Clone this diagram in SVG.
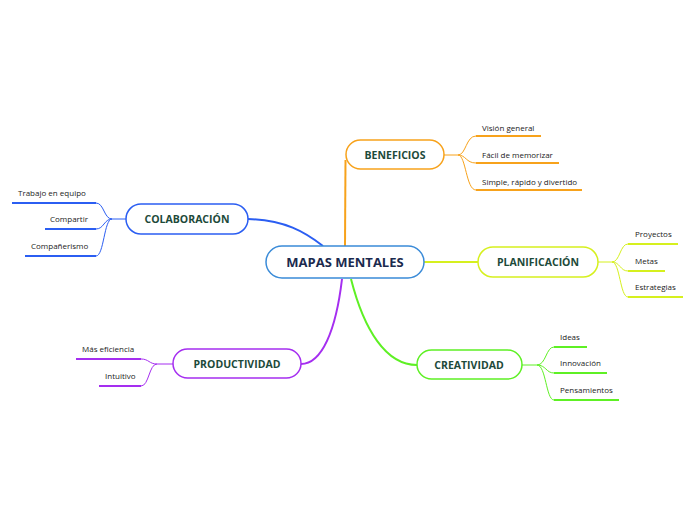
<svg xmlns="http://www.w3.org/2000/svg" width="696" height="520" viewBox="0 0 696 520">
<style>
.node{fill:#fff;stroke-width:1.5}
.main{font-family:"Open Sans","Noto Sans",sans-serif;font-weight:bold;font-size:13px;fill:#1b2a4e;text-anchor:middle;dominant-baseline:central}
.title{font-family:"Open Sans","Noto Sans",sans-serif;font-weight:bold;font-size:10.5px;fill:#1d4a3a;text-anchor:middle;dominant-baseline:central}
.leaf{font-family:"Open Sans","Noto Sans",sans-serif;font-size:8px;fill:#222}
.conn{fill:none;stroke-width:2}
.br{fill:none;stroke-width:1}
.ul{stroke-width:2}
.or{stroke:#f7a21b}
.bl{stroke:#2b5ef2}
.yg{stroke:#d6f01e}
.pu{stroke:#a52ef0}
.gr{stroke:#5ef024}
</style>
<rect width="696" height="520" fill="#fff"/>
<g id="connectors">
<path class="conn or" d="M345,246 L345.5,160"/>
<path class="conn bl" d="M323,246 C305,232 285,220 248,219"/>
<path class="conn yg" d="M424,262 L478,262"/>
<path class="conn pu" d="M342,279 C336,330 322,364 301,364"/>
<path class="conn gr" d="M351,279 C364,330 386,365 417,365"/>
</g>
<g id="central">
<rect class="node" x="266" y="246" width="158" height="32" rx="16" stroke="#3a8bd8"/>
<text class="main" x="345" y="262">MAPAS MENTALES</text>
</g>
<g id="beneficios">
<rect class="node or" x="346" y="140" width="98" height="29" rx="14.5"/>
<text class="title" x="395" y="155">BENEFICIOS</text>
<path class="br or" d="M444,155 L458,155 C466,155 466,136 476,136 M458,155 C466,155 466,163 476,163 M458,155 C466,155 466,190 476,190"/>
<line class="ul or" x1="476" y1="136" x2="541" y2="136"/>
<line class="ul or" x1="476" y1="163" x2="559" y2="163"/>
<line class="ul or" x1="476" y1="190" x2="582" y2="190"/>
<text class="leaf" x="482" y="131">Visión general</text>
<text class="leaf" x="482" y="158">Fácil de memorizar</text>
<text class="leaf" x="482" y="185">Simple, rápido y divertido</text>
</g>
<g id="colaboracion">
<rect class="node bl" x="126" y="204" width="122" height="30" rx="15"/>
<text class="title" x="187" y="219">COLABORACIÓN</text>
<path class="br bl" d="M126,219 L112,219 C104,219 104,203 96,203 M112,219 C104,219 104,229 96,229 M112,219 C104,219 104,256 96,256"/>
<line class="ul bl" x1="12" y1="203" x2="96" y2="203"/>
<line class="ul bl" x1="45" y1="229" x2="96" y2="229"/>
<line class="ul bl" x1="25" y1="256" x2="96" y2="256"/>
<text class="leaf" x="18" y="196">Trabajo en equipo</text>
<text class="leaf" x="50" y="222">Compartir</text>
<text class="leaf" x="31" y="249">Compañerismo</text>
</g>
<g id="planificacion">
<rect class="node yg" x="478" y="247" width="120" height="30" rx="15"/>
<text class="title" x="538" y="262">PLANIFICACIÓN</text>
<path class="br yg" d="M598,262 L612,262 C620,262 620,244 628,244 M612,262 C620,262 620,271 628,271 M612,262 C620,262 620,297 628,297"/>
<line class="ul yg" x1="628" y1="244" x2="678" y2="244"/>
<line class="ul yg" x1="628" y1="271" x2="665" y2="271"/>
<line class="ul yg" x1="628" y1="297" x2="683" y2="297"/>
<text class="leaf" x="635" y="237">Proyectos</text>
<text class="leaf" x="635" y="264">Metas</text>
<text class="leaf" x="635" y="290">Estrategias</text>
</g>
<g id="productividad">
<rect class="node pu" x="173" y="349" width="128" height="29" rx="14.5"/>
<text class="title" x="237" y="364">PRODUCTIVIDAD</text>
<path class="br pu" d="M173,364 L157,364 C149,364 149,359 141,359 M157,364 C149,364 149,386 141,386"/>
<line class="ul pu" x1="76" y1="359" x2="141" y2="359"/>
<line class="ul pu" x1="99" y1="386" x2="141" y2="386"/>
<text class="leaf" x="82" y="352">Más eficiencia</text>
<text class="leaf" x="105" y="379">Intuitivo</text>
</g>
<g id="creatividad">
<rect class="node gr" x="417" y="350" width="105" height="29" rx="14.5"/>
<text class="title" x="469" y="365">CREATIVIDAD</text>
<path class="br gr" d="M522,365 L537,365 C546,365 546,347 554,347 M537,365 C546,365 546,373 554,373 M537,365 C546,365 546,400 554,400"/>
<line class="ul gr" x1="554" y1="347" x2="587" y2="347"/>
<line class="ul gr" x1="554" y1="373" x2="607" y2="373"/>
<line class="ul gr" x1="554" y1="400" x2="619" y2="400"/>
<text class="leaf" x="560" y="340">Ideas</text>
<text class="leaf" x="560" y="366">Innovación</text>
<text class="leaf" x="560" y="393">Pensamientos</text>
</g>
</svg>
